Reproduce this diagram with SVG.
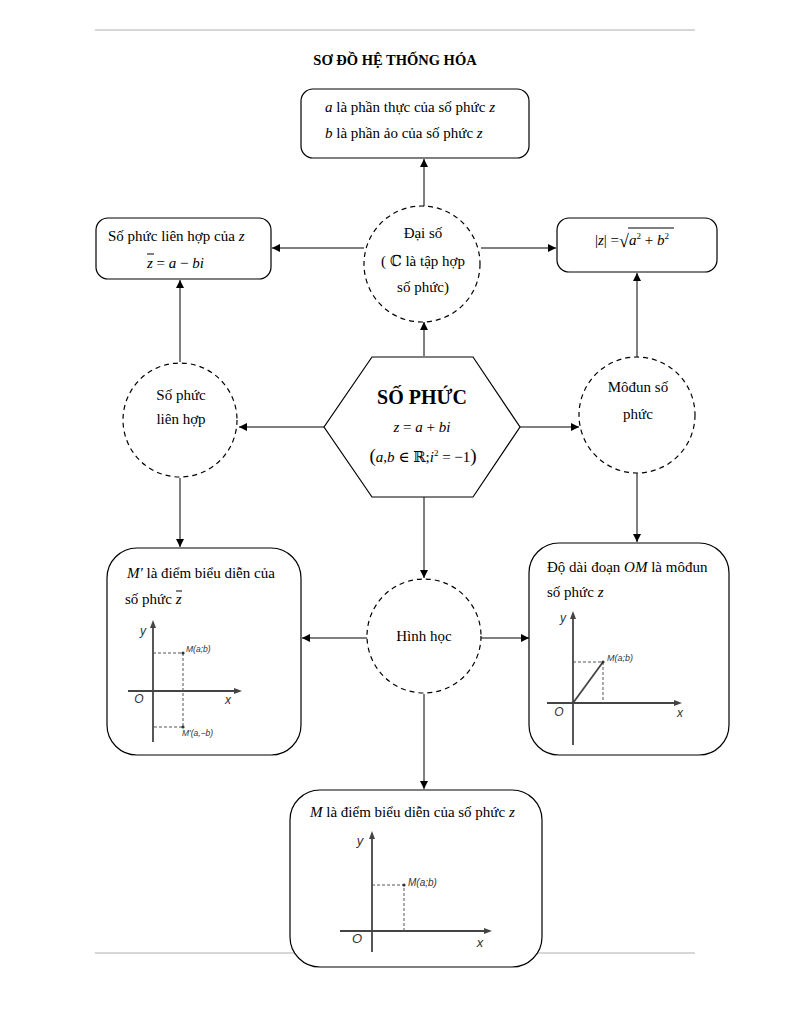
<svg xmlns="http://www.w3.org/2000/svg" width="792" height="1024" viewBox="0 0 792 1024">
<defs>
<marker id="ar" viewBox="0 0 10 10" refX="10" refY="5" markerWidth="8" markerHeight="8" markerUnits="userSpaceOnUse" orient="auto"><path d="M0,0 L10,5 L0,10 z" fill="#000"/></marker>
<style>
.t{font-family:"Liberation Serif","DejaVu Serif",serif;font-size:15px;fill:#000}
.i{font-style:italic}
.box{fill:#fff;stroke:#000;stroke-width:1.2}
.dc{fill:#fff;stroke:#000;stroke-width:1.2;stroke-dasharray:5,4}
.cn{stroke:#000;stroke-width:1;fill:none;marker-end:url(#ar)}
.ax{stroke:#444;stroke-width:1.8;fill:none}
.dl{stroke:#555;stroke-width:1;stroke-dasharray:3,2;fill:none}
.g{font-family:"Liberation Sans",Arial,sans-serif;font-style:italic;fill:#333}
.sup{font-size:9px}
</style>
</defs>
<rect width="792" height="1024" fill="#fff"/>
<line x1="95" y1="30" x2="695" y2="30" stroke="#999" stroke-width="0.8"/>
<line x1="95" y1="953" x2="695" y2="953" stroke="#999" stroke-width="0.8"/>
<text class="t" x="395" y="65" text-anchor="middle" font-weight="bold" style="font-size:14.5px">SƠ ĐỒ HỆ THỐNG HÓA</text>

<g id="connectors">
<line class="cn" x1="424" y1="207" x2="424" y2="159"/>
<line class="cn" x1="364" y1="248" x2="272" y2="248"/>
<line class="cn" x1="481" y1="248" x2="556" y2="248"/>
<line class="cn" x1="424" y1="356" x2="424" y2="322"/>
<line class="cn" x1="324" y1="427" x2="239" y2="427"/>
<line class="cn" x1="520" y1="427" x2="579" y2="427"/>
<line class="cn" x1="180" y1="362" x2="180" y2="280"/>
<line class="cn" x1="180" y1="478" x2="180" y2="547"/>
<line class="cn" x1="637" y1="357" x2="637" y2="273"/>
<line class="cn" x1="637" y1="473" x2="637" y2="542"/>
<line class="cn" x1="424" y1="497" x2="424" y2="578"/>
<line class="cn" x1="367" y1="638" x2="302" y2="638"/>
<line class="cn" x1="481" y1="638" x2="529" y2="638"/>
<line class="cn" x1="424" y1="694" x2="424" y2="789"/>
</g>

<g id="node-phanthuc">
<rect class="box" x="301" y="89" width="228" height="69" rx="12"/>
<text class="t" x="325" y="112"><tspan class="i">a</tspan>  là phần thực của số phức  <tspan class="i">z</tspan></text>
<text class="t" x="325" y="138"><tspan class="i">b</tspan>  là phần ảo của số phức  <tspan class="i">z</tspan></text>
</g>

<g id="node-daiso">
<circle class="dc" cx="422" cy="264" r="58"/>
<text class="t" x="423" y="238" text-anchor="middle">Đại số</text>
<text class="t" x="423" y="266" text-anchor="middle">( ℂ  là tập hợp</text>
<text class="t" x="423" y="292" text-anchor="middle">số phức)</text>
</g>

<g id="node-lienhop-box">
<rect class="box" x="96" y="218" width="175" height="61" rx="12"/>
<text class="t" x="108" y="241">Số phức liên hợp của  <tspan class="i">z</tspan></text>
<text class="t" x="147" y="268"><tspan class="i">z</tspan> = <tspan class="i">a</tspan> − <tspan class="i">bi</tspan></text>
<line x1="147" y1="254" x2="154" y2="254" stroke="#000" stroke-width="1"/>
</g>

<g id="node-modul-box">
<rect class="box" x="557" y="218" width="160" height="54" rx="12"/>
<text class="t" x="595" y="245">|<tspan class="i">z</tspan>| =</text>
<text class="t" x="619" y="247" style="font-size:18px">√</text>
<line x1="628" y1="228" x2="674" y2="228" stroke="#000" stroke-width="1"/>
<text class="t" x="629" y="245"><tspan class="i">a</tspan><tspan class="sup" dy="-6">2</tspan><tspan dy="6"> + </tspan><tspan class="i">b</tspan><tspan class="sup" dy="-6">2</tspan></text>
</g>

<g id="node-sophuc">
<polygon points="372,357 473,357 520,427 473,497 372,497 324,427" fill="#fff" stroke="#000" stroke-width="1.2"/>
<text class="t" x="422" y="404" text-anchor="middle" font-weight="bold" style="font-size:20px">SỐ PHỨC</text>
<text class="t" x="422" y="432" text-anchor="middle"><tspan class="i">z</tspan> = <tspan class="i">a</tspan> + <tspan class="i">bi</tspan></text>
<text class="t" x="423" y="462" text-anchor="middle"><tspan style="font-size:19px">(</tspan><tspan class="i">a</tspan>,<tspan class="i">b</tspan> ∈ ℝ;<tspan class="i">i</tspan><tspan class="sup" dy="-6">2</tspan><tspan dy="6"> = −1</tspan><tspan style="font-size:19px">)</tspan></text>
</g>

<g id="node-lienhop">
<circle class="dc" cx="180" cy="420" r="57"/>
<text class="t" x="181" y="400" text-anchor="middle">Số  phức</text>
<text class="t" x="181" y="424" text-anchor="middle">liên hợp</text>
</g>

<g id="node-modul">
<circle class="dc" cx="637" cy="415" r="58"/>
<text class="t" x="638" y="392" text-anchor="middle">Môđun  số</text>
<text class="t" x="638" y="419" text-anchor="middle">phức</text>
</g>

<g id="node-hinhhoc">
<circle class="dc" cx="424" cy="636" r="57"/>
<text class="t" x="424" y="641" text-anchor="middle">Hình học</text>
</g>

<g id="node-mphay">
<rect class="box" x="107" y="548" width="194" height="207" rx="30"/>
<text class="t" x="127" y="578"><tspan class="i">M′</tspan>  là điểm biểu diễn của</text>
<text class="t" x="125" y="604">số phức  <tspan class="i">z</tspan></text>
<line x1="176" y1="591" x2="182" y2="591" stroke="#000" stroke-width="1"/>
<line class="ax" x1="153" y1="742" x2="153" y2="626"/>
<path d="M150,628 L153,620 L156,628 z" fill="#444"/>
<line class="ax" x1="128" y1="691" x2="236" y2="691"/>
<path d="M234,688 L242,691 L234,694 z" fill="#444"/>
<path class="dl" d="M153,653 H183 V727 H153"/>
<circle cx="183" cy="653" r="1.6" fill="#333"/>
<circle cx="183" cy="727" r="1.6" fill="#333"/>
<text class="g" x="143" y="635" font-size="12" text-anchor="middle">y</text>
<text class="g" x="139" y="703" font-size="12" text-anchor="middle">O</text>
<text class="g" x="228" y="704" font-size="12" text-anchor="middle">x</text>
<text class="g" x="186" y="652" font-size="8.5">M(a;b)</text>
<text class="g" x="182" y="736" font-size="8.5">M'(a,−b)</text>
</g>

<g id="node-om">
<rect class="box" x="529" y="543" width="200" height="212" rx="30"/>
<text class="t" x="547" y="572">Độ dài đoạn  <tspan class="i">OM</tspan>  là môđun</text>
<text class="t" x="547" y="597">số phức  <tspan class="i">z</tspan></text>
<line class="ax" x1="573" y1="745" x2="573" y2="617"/>
<path d="M570,619 L573,611 L576,619 z" fill="#444"/>
<line class="ax" x1="547" y1="703" x2="676" y2="703"/>
<path d="M674,700 L682,703 L674,706 z" fill="#444"/>
<path class="dl" d="M573,662 H603 V703"/>
<line x1="573" y1="703" x2="603" y2="662" stroke="#444" stroke-width="1.8"/>
<circle cx="603" cy="662" r="1.6" fill="#333"/>
<text class="g" x="563" y="622" font-size="12" text-anchor="middle">y</text>
<text class="g" x="559" y="716" font-size="12" text-anchor="middle">O</text>
<text class="g" x="680" y="717" font-size="12" text-anchor="middle">x</text>
<text class="g" x="607" y="661" font-size="9">M(a;b)</text>
</g>

<g id="node-m">
<rect class="box" x="290" y="790" width="252" height="177" rx="30"/>
<text class="t" x="310" y="817"><tspan class="i">M</tspan>  là điểm biểu diễn của số phức  <tspan class="i">z</tspan></text>
<line class="ax" x1="372" y1="952" x2="372" y2="837"/>
<path d="M369,839 L372,831 L375,839 z" fill="#444"/>
<line class="ax" x1="340" y1="931" x2="486" y2="931"/>
<path d="M484,928 L492,931 L484,934 z" fill="#444"/>
<path class="dl" d="M372,885 H404 V931"/>
<circle cx="404" cy="885" r="1.6" fill="#333"/>
<text class="g" x="360" y="845" font-size="13" text-anchor="middle">y</text>
<text class="g" x="357" y="943" font-size="13" text-anchor="middle">O</text>
<text class="g" x="480" y="947" font-size="13" text-anchor="middle">x</text>
<text class="g" x="408" y="886" font-size="10">M(a;b)</text>
</g>
</svg>
